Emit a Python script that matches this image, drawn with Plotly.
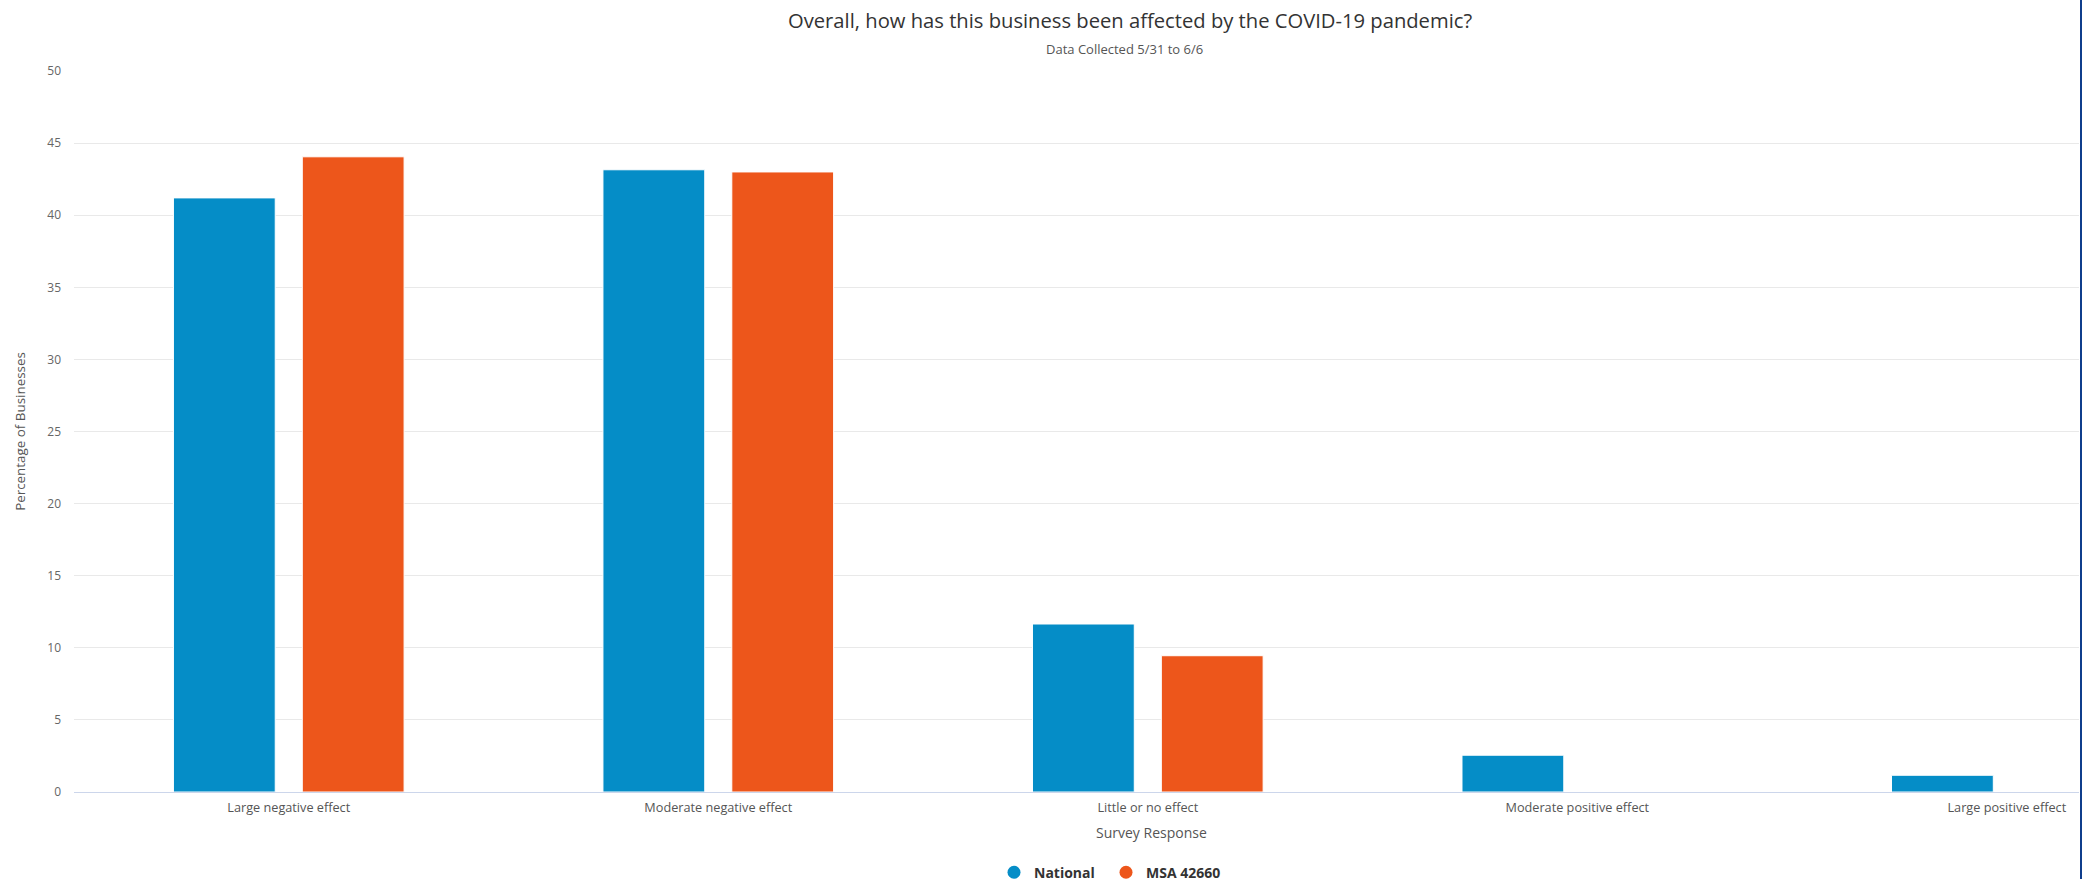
import plotly.graph_objects as go

categories = ["Large negative effect", "Moderate negative effect", "Little or no effect",
              "Moderate positive effect", "Large positive effect"]
national = [41.2, 43.15, 11.65, 2.55, 1.16]
msa = [44.05, 43.0, 9.45, None, None]
series_names = ["National", "MSA 42660"]
colors = ["#058DC7", "#ED561B"]
y_ticks = [0, 5, 10, 15, 20, 25, 30, 35, 40, 45, 50]

FONT = "Segoe UI, Open Sans, Noto Sans, sans-serif"

# The captured page is ~892 px tall and shown at 879 px; lay out in page pixels.
W, H = 2082, 892
K = H / 879.0
L, R = 74, 3
T = round(70 * K)
B = round(H - 791 * K)
pw = W - L - R
ph = H - T - B

def px(x):
    return (x - L) / pw

def py(y):
    return (H - B - y * K) / ph

fig = go.Figure()
for name, vals, col in zip(series_names, [national, msa], colors):
    fig.add_trace(go.Bar(x=categories, y=vals, name=name,
                         marker=dict(color=col, line=dict(color="white", width=1)),
                         showlegend=False))
legend_ids = ["legend", "legend2"]
for name, col, lg in zip(series_names, colors, legend_ids):
    fig.add_trace(go.Scatter(x=[None], y=[None], mode="markers", name=name, legend=lg,
                             marker=dict(color=col, size=13, symbol="circle")))

legend_common = dict(orientation="h", xanchor="left", yanchor="middle", y=py(872),
                     font=dict(size=14, color="#333333", weight="bold"), itemwidth=30,
                     bgcolor="rgba(0,0,0,0)")

fig.update_layout(
    width=W, height=H,
    margin=dict(l=L, r=R, t=T, b=B),
    paper_bgcolor="white", plot_bgcolor="white",
    barmode="group", bargap=0.4, bargroupgap=0.21,
    font=dict(family=FONT, color="#333333"),
    xaxis=dict(type="category", range=[-0.5, 4.168], showgrid=False, showline=True,
               linecolor="#ccd6eb", linewidth=1, ticks="", ticklabelstandoff=4,
               tickfont=dict(size=12.7, color="#555555")),
    yaxis=dict(range=[0, 50], tickvals=y_ticks, showgrid=True, gridcolor="#e9e9e9",
               zeroline=False, showline=False, ticks="", ticklabelstandoff=12,
               tickfont=dict(size=12, color="#666666")),
    legend=dict(x=px(994), **legend_common),
    legend2=dict(x=px(1106), **legend_common),
    annotations=[
        dict(text="Overall, how has this business been affected by the COVID-19 pandemic?",
             x=px(1130), y=py(19), xref="paper", yref="paper", showarrow=False,
             xanchor="center", yanchor="middle", font=dict(size=20.2, color="#333333")),
        dict(text="Data Collected 5/31 to 6/6",
             x=px(1124), y=py(48), xref="paper", yref="paper", showarrow=False,
             xanchor="center", yanchor="middle", font=dict(size=13, color="#555555")),
        dict(text="Survey Response",
             x=px(1151), y=py(832), xref="paper", yref="paper", showarrow=False,
             xanchor="center", yanchor="middle", font=dict(size=14, color="#555555")),
        dict(text="Percentage of Businesses", textangle=-90,
             x=px(20), y=py(431), xref="paper", yref="paper", showarrow=False,
             xanchor="center", yanchor="middle", font=dict(size=13.4, color="#555555")),
    ],
    shapes=[dict(type="line", xref="paper", yref="paper", x0=px(2081), x1=px(2081),
                 y0=py(900), y1=py(-10), line=dict(color="#0f3d8c", width=2))],
)

post = "document.documentElement.style.margin='0';document.body.style.margin='0';"
fig.write_html("out.html", config={"displayModeBar": False}, post_script=post)
